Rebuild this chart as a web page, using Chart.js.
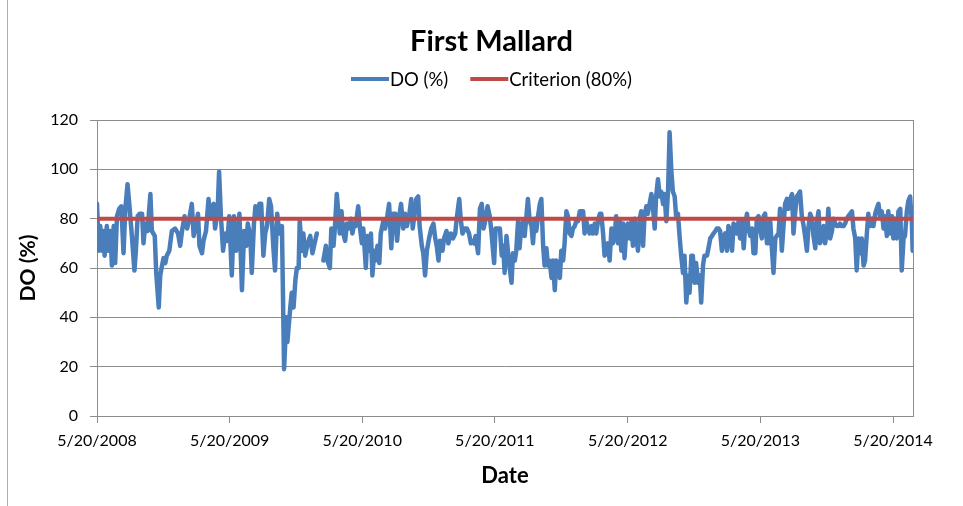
<!DOCTYPE html>
<html>
<head>
<meta charset="utf-8">
<title>First Mallard</title>
<script src="https://cdn.jsdelivr.net/npm/chart.js@4.4.1/dist/chart.umd.min.js"></script>
<style>
  html, body { margin: 0; padding: 0; background: #fff; }
  #wrap { position: relative; width: 963px; height: 506px; }
</style>
</head>
<body>
<div id="wrap"><canvas id="chart"></canvas></div>
<script>
// days counted from 5/20/2008
const tickDays = [0, 365, 730, 1095, 1461, 1826, 2191];
const tickLabels = ['5/20/2008', '5/20/2009', '5/20/2010', '5/20/2011', '5/20/2012', '5/20/2013', '5/20/2014'];
const lastAxisDay = 2246;
const criterion = 80;

// DO (%) readings, split by period; null marks the missing stretch in early 2010
const days1 = [0, 5, 9, 14, 18, 21, 27, 32, 37, 41, 46, 50, 55, 61, 67, 73, 78, 84, 90, 96,
  103, 107, 112, 117, 124, 128, 133, 139, 147, 151, 159, 163, 170, 174, 179, 183, 188, 192, 199, 206,
  215, 223, 229, 234, 241, 248, 254, 261, 266, 272, 278, 282, 289, 293, 300, 307, 312, 316, 321, 325,
  332, 336, 341, 347, 353, 359, 364, 371, 377, 383, 388, 392, 399, 405, 411, 415, 422, 426, 432, 436,
  442, 447, 452, 458, 463, 468, 474, 479, 486, 490, 496, 502, 509, 515, 521, 524, 532, 536, 541, 546,
  550, 555, 558, 564, 568, 573, 580, 587, 593, 599, 605, 614];
const do1 = [86, 67, 77, 67, 75, 65, 77, 67, 75, 61, 77, 62, 81, 84, 85, 66, 84, 94, 84, 73,
  59, 67, 81, 82, 82, 70, 78, 75, 90, 75, 73, 58, 44, 57, 61, 64, 62, 65, 67, 75,
  76, 74, 69, 75, 81, 76, 80, 86, 73, 77, 82, 69, 66, 71, 75, 88, 80, 84, 86, 76,
  83, 99, 81, 67, 74, 71, 81, 57, 81, 67, 73, 82, 51, 75, 69, 78, 73, 58, 78, 85,
  81, 86, 86, 65, 74, 77, 88, 85, 67, 59, 82, 74, 77, 19, 40, 30, 44, 50, 44, 55,
  60, 60, 79, 67, 74, 65, 70, 73, 66, 70, 74, null];

const days2 = [623, 630, 634, 641, 645, 651, 655, 660, 665, 668, 673, 678, 683, 688, 694, 699, 703, 708, 712, 719,
  724, 729, 733, 740, 744, 749, 754, 758, 763, 767, 772, 777, 781, 788, 793, 799, 804, 810, 815, 821,
  826, 832, 837, 843, 848, 853, 859, 865, 869, 875, 879, 884, 888, 894, 898, 903, 908, 914, 920, 926,
  931, 935, 940, 944, 951, 955, 962, 967, 974, 980, 986, 990, 997, 1001, 1006, 1012, 1018, 1024, 1029, 1033,
  1038, 1042, 1049, 1054, 1059, 1064, 1070, 1075, 1081, 1086, 1093, 1097, 1104, 1109, 1114, 1118];
const do2 = [63, 69, 63, 60, 76, 69, 77, 90, 81, 74, 83, 74, 71, 78, 76, 80, 74, 78, 77, 85,
  76, 70, 76, 60, 73, 67, 74, 57, 67, 63, 69, 62, 74, 79, 76, 81, 86, 68, 82, 82,
  71, 81, 86, 76, 82, 77, 81, 88, 76, 83, 88, 89, 77, 69, 66, 57, 67, 72, 76, 78,
  72, 69, 63, 71, 67, 72, 75, 70, 74, 72, 74, 80, 88, 80, 74, 76, 76, 74, 70, 71,
  70, 73, 66, 84, 86, 76, 80, 85, 81, 74, 62, 76, 76, 76, 65, 69];

const days3 = [1122, 1127, 1131, 1136, 1141, 1145, 1150, 1154, 1159, 1163, 1168, 1173, 1177, 1182, 1186, 1191, 1196, 1200, 1205, 1209,
  1214, 1219, 1223, 1228, 1232, 1237, 1241, 1246, 1251, 1255, 1260, 1264, 1269, 1274, 1278, 1283, 1287, 1292, 1296, 1301,
  1306, 1310, 1315, 1319, 1324, 1329, 1333, 1338, 1342, 1347, 1351, 1356, 1361, 1365, 1370, 1374, 1379, 1384, 1388, 1393,
  1397, 1402, 1406, 1411, 1416, 1420, 1425, 1429, 1434, 1439, 1443, 1448, 1452, 1457, 1461, 1466, 1471, 1475, 1480, 1484,
  1489, 1494, 1498, 1503, 1507, 1512, 1516, 1521, 1526, 1530, 1535, 1539, 1544, 1549, 1553, 1558, 1562, 1567, 1572, 1576,
  1581, 1585, 1590, 1594, 1599, 1604, 1608, 1613, 1617, 1622, 1627, 1631, 1636, 1640, 1645, 1649, 1654, 1659, 1663, 1668,
  1672, 1679];
const do3 = [58, 73, 67, 60, 54, 66, 63, 67, 79, 68, 77, 79, 73, 81, 88, 79, 77, 70, 80, 75,
  81, 86, 88, 69, 61, 68, 61, 63, 56, 63, 51, 63, 62, 56, 67, 63, 70, 83, 81, 74,
  73, 76, 77, 79, 79, 83, 83, 83, 74, 79, 76, 74, 77, 74, 78, 74, 79, 82, 82, 74,
  65, 67, 70, 63, 76, 70, 73, 81, 70, 79, 67, 78, 64, 76, 78, 72, 79, 69, 80, 73,
  67, 80, 83, 69, 81, 85, 82, 86, 90, 85, 76, 89, 96, 89, 91, 86, 90, 79, 92, 115,
  99, 91, 89, 81, 82, 72, 65, 58, 65, 46, 57, 50, 65, 65, 54, 62, 54, 57, 46, 61,
  65, 65];

const days4 = [1683, 1688, 1693, 1697, 1702, 1706, 1711, 1715, 1720, 1725, 1729, 1734, 1738, 1743, 1748, 1752, 1757, 1761, 1766, 1770,
  1775, 1780, 1784, 1789, 1793, 1798, 1803, 1807, 1812, 1816, 1821, 1825, 1830, 1835, 1839, 1844, 1848, 1853, 1858, 1862,
  1867, 1871, 1876, 1880, 1885, 1890, 1894, 1899, 1903, 1908, 1913, 1917, 1922, 1926, 1931, 1935, 1940, 1945, 1949, 1954,
  1958, 1963, 1968, 1972, 1977, 1981, 1986, 1990, 1995, 2000, 2004, 2009, 2013, 2018, 2023, 2027, 2032, 2036, 2041, 2045,
  2050, 2055, 2059, 2064, 2068, 2073, 2078, 2082, 2087, 2091, 2096, 2101, 2105, 2110, 2114, 2119, 2123, 2128, 2133, 2137,
  2142, 2146, 2151, 2155, 2160, 2165, 2169, 2174, 2178, 2183, 2188, 2192, 2197, 2201, 2206, 2211, 2215, 2220, 2224, 2229,
  2233, 2238, 2243, 2245];
const do4 = [68, 72, 73, 74, 75, 76, 76, 75, 67, 73, 74, 67, 77, 75, 67, 78, 77, 74, 79, 72,
  79, 68, 77, 82, 76, 73, 76, 66, 66, 80, 81, 76, 72, 81, 82, 70, 70, 79, 67, 58,
  72, 73, 74, 84, 67, 78, 86, 88, 84, 88, 90, 74, 83, 89, 90, 91, 81, 77, 73, 67,
  76, 82, 80, 73, 68, 78, 83, 70, 72, 77, 70, 74, 84, 72, 75, 80, 78, 77, 77, 78,
  77, 77, 78, 80, 81, 82, 83, 76, 72, 59, 72, 66, 72, 61, 63, 74, 82, 77, 80, 77,
  82, 84, 86, 81, 83, 76, 81, 73, 83, 74, 81, 72, 80, 72, 83, 84, 59, 72, 73, 83,
  87, 89, 78, 67];

const BLUE = '#4a7ebb';
const RED = '#be4b48';
const GRID = '#8c8c8c';
const FONT = 'Lato, "Open Sans", sans-serif';

const toPoints = (days, vals) => days.map((d, i) => ({ x: d, y: vals[i] }));
const doPoints = [
  ...toPoints(days1, do1),
  ...toPoints(days2, do2),
  ...toPoints(days3, do3),
  ...toPoints(days4, do4)
];
const criterionPoints = [
  { x: days1[0], y: criterion },
  { x: lastAxisDay, y: criterion }
];

Chart.defaults.font.family = FONT;
Chart.defaults.color = '#000';

// thin frame on the left edge of the chart and the box round the plot area
const framePlugin = {
  id: 'frame',
  beforeDatasetsDraw(chart) {
    const { ctx, chartArea: a } = chart;
    ctx.save();
    ctx.strokeStyle = GRID;
    ctx.lineWidth = 1;
    ctx.strokeRect(Math.round(a.left) + 0.5, Math.round(a.top) + 0.5,
      Math.round(a.right - a.left), Math.round(a.bottom - a.top));
    ctx.strokeStyle = '#b0b0b0';
    ctx.beginPath();
    ctx.moveTo(7.5, 0);
    ctx.lineTo(7.5, chart.height);
    ctx.stroke();
    ctx.restore();
  }
};

// chart title and the legend row under it, centred on the chart frame
const header = {
  id: 'header',
  afterDraw(chart) {
    const { ctx } = chart;
    const cx = 491.5;
    ctx.save();
    ctx.fillStyle = '#000';
    ctx.textBaseline = 'middle';
    ctx.textAlign = 'center';
    ctx.font = 'bold 29px ' + FONT;
    ctx.fillText('First Mallard', cx, 42);

    const items = [
      { text: 'DO (%)', color: BLUE },
      { text: 'Criterion (80%)', color: RED }
    ];
    const sample = 38, gapText = 1, gapItem = 22, y = 79;
    ctx.font = '18.5px ' + FONT;
    ctx.textAlign = 'left';
    const widths = items.map(it => sample + gapText + ctx.measureText(it.text).width);
    const total = widths.reduce((s, w) => s + w, 0) + gapItem * (items.length - 1);
    let x = cx - total / 2;
    items.forEach((it, i) => {
      ctx.strokeStyle = it.color;
      ctx.lineWidth = 4;
      ctx.beginPath();
      ctx.moveTo(x, y);
      ctx.lineTo(x + sample, y);
      ctx.stroke();
      ctx.fillText(it.text, x + sample + gapText, y + 1);
      x += widths[i] + gapItem;
    });
    ctx.restore();
  }
};

new Chart(document.getElementById('chart'), {
  type: 'line',
  data: {
    datasets: [
      {
        label: 'DO (%)',
        data: doPoints,
        borderColor: BLUE,
        backgroundColor: BLUE,
        borderWidth: 4.5,
        pointRadius: 0,
        tension: 0,
        spanGaps: false,
        borderJoinStyle: 'round',
        borderCapStyle: 'round',
        order: 1
      },
      {
        label: 'Criterion (80%)',
        data: criterionPoints,
        borderColor: RED,
        backgroundColor: RED,
        borderWidth: 4,
        pointRadius: 0,
        order: 0
      }
    ]
  },
  options: {
    responsive: true,
    maintainAspectRatio: false,
    devicePixelRatio: 1,
    animation: false,
    events: [],
    layout: { padding: { left: 20, right: 50, top: 120, bottom: 0 } },
    plugins: {
      legend: { display: false },
      tooltip: { enabled: false },
      title: { display: false }
    },
    scales: {
      x: {
        type: 'linear',
        min: 0,
        max: lastAxisDay,
        afterFit(scale) { scale.height = 90; },
        afterBuildTicks(scale) { scale.ticks = tickDays.map(v => ({ value: v })); },
        ticks: {
          autoSkip: false,
          maxRotation: 0,
          padding: 8,
          font: { size: 16 },
          callback: (value) => {
            const i = tickDays.indexOf(value);
            return i >= 0 ? tickLabels[i] : '';
          }
        },
        grid: { drawOnChartArea: false, drawTicks: true, tickLength: 7, color: GRID },
        border: { color: GRID, width: 1 },
        title: {
          display: true,
          text: 'Date',
          font: { size: 22, weight: 'bold', lineHeight: 1.2 },
          padding: { top: 0, bottom: 17 }
        }
      },
      y: {
        min: 0,
        max: 120,
        afterFit(scale) { scale.width = 77; },
        ticks: { stepSize: 20, padding: 12, font: { size: 16 } },
        grid: { color: GRID, tickLength: 7 },
        border: { color: GRID, width: 1 },
        title: {
          display: true,
          text: 'DO (%)',
          font: { size: 21, weight: 'bold', lineHeight: 1 },
          padding: { top: -2, bottom: 0 }
        }
      }
    }
  },
  plugins: [framePlugin, header]
});
</script>
</body>
</html>
